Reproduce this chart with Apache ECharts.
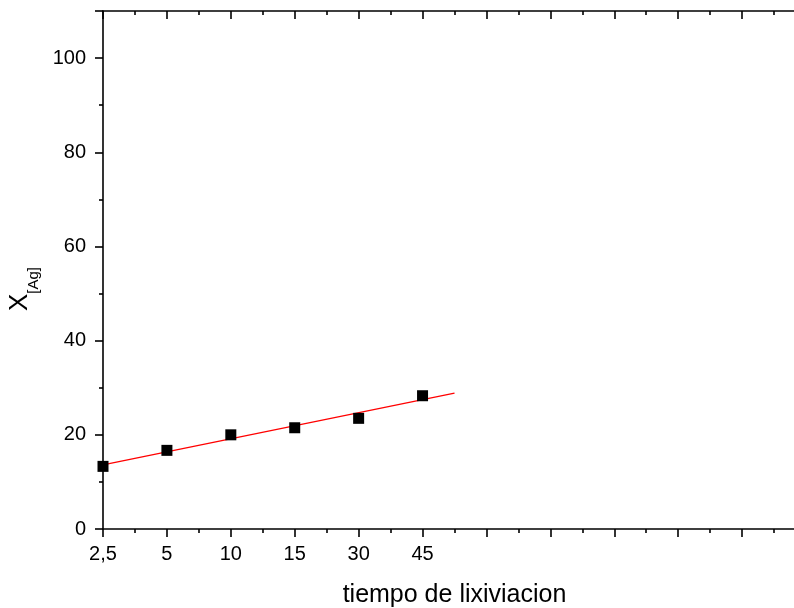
<!DOCTYPE html>
<html><head><meta charset="utf-8">
<script src="https://cdn.jsdelivr.net/npm/echarts@6/dist/echarts.min.js"></script>
<style>html,body{margin:0;padding:0;background:#fff}#c{width:794px;height:608px}</style>
</head><body><div id="c"></div>
<script>
const xLabels = ['2,5','5','10','15','30','45'];
const xIndex = [0,1,2,3,4,5];
const yValues = [13.3,16.7,20.0,21.5,23.5,28.3];
const fitX = [0,5.5];
const fitY = [13.6,28.85];

const chart = echarts.init(document.getElementById('c'), null, {renderer:'canvas'});
const font = 'Liberation Sans, Arial, sans-serif';
chart.setOption({
  animation:false,
  grid:{left:103, top:11, width:703, height:518, containLabel:false, outerBoundsMode:'none'},
  xAxis:[{
    type:'value', min:0, max:11, interval:1, position:'bottom',
    axisLine:{onZero:false, lineStyle:{color:'#000', width:1.6}},
    axisTick:{inside:false, length:8, lineStyle:{color:'#000', width:1.6}},
    minorTick:{show:true, splitNumber:2, length:4, lineStyle:{color:'#000', width:1.6}},
    splitLine:{show:false},
    axisLabel:{color:'#000', fontFamily:font, fontSize:20, margin:15,
      formatter:function(v){ const i=Math.round(v); return (i>=0 && i<xLabels.length)? xLabels[i] : ''; }},
    name:'tiempo de lixiviacion', nameLocation:'middle', nameGap:54,
    nameTextStyle:{color:'#000', fontFamily:font, fontSize:25}
  },{
    type:'value', min:0, max:11, interval:1, position:'top',
    axisLine:{onZero:false, lineStyle:{color:'#000', width:1.6}},
    axisTick:{inside:true, length:8, lineStyle:{color:'#000', width:1.6}},
    minorTick:{show:true, splitNumber:2, length:4, lineStyle:{color:'#000', width:1.6}},
    splitLine:{show:false}, axisLabel:{show:false}
  }],
  yAxis:{
    type:'value', min:0, max:110, interval:20,
    axisLine:{show:true, onZero:false, lineStyle:{color:'#000', width:1.6}},
    axisTick:{show:true, inside:false, length:8, lineStyle:{color:'#000', width:1.6}},
    minorTick:{show:true, splitNumber:2, length:4, lineStyle:{color:'#000', width:1.6}},
    splitLine:{show:false},
    axisLabel:{color:'#000', fontFamily:font, fontSize:20, margin:17,
      formatter:function(v){ return v<=100 ? String(v) : ''; }},
    name:'{x|X}{s|[Ag]}', nameLocation:'middle', nameGap:57, nameRotate:90,
    nameTextStyle:{color:'#000', fontFamily:font, padding:[0,0,0,-38],
      rich:{x:{fontSize:26, fontFamily:font, color:'#000'},
            s:{fontSize:15, fontFamily:font, color:'#000', verticalAlign:'bottom', padding:[0,0,-9,0]}}}
  },
  series:[{
    type:'line', data:fitX.map((x,i)=>[x,fitY[i]]), showSymbol:false, symbol:'none',
    lineStyle:{color:'#ff0000', width:1.2}, silent:true, z:2
  },{
    type:'scatter', data:xIndex.map((x,i)=>[x,yValues[i]]), symbol:'rect', symbolSize:11,
    itemStyle:{color:'#000', opacity:1}, z:3
  }]
});
</script></body></html>
